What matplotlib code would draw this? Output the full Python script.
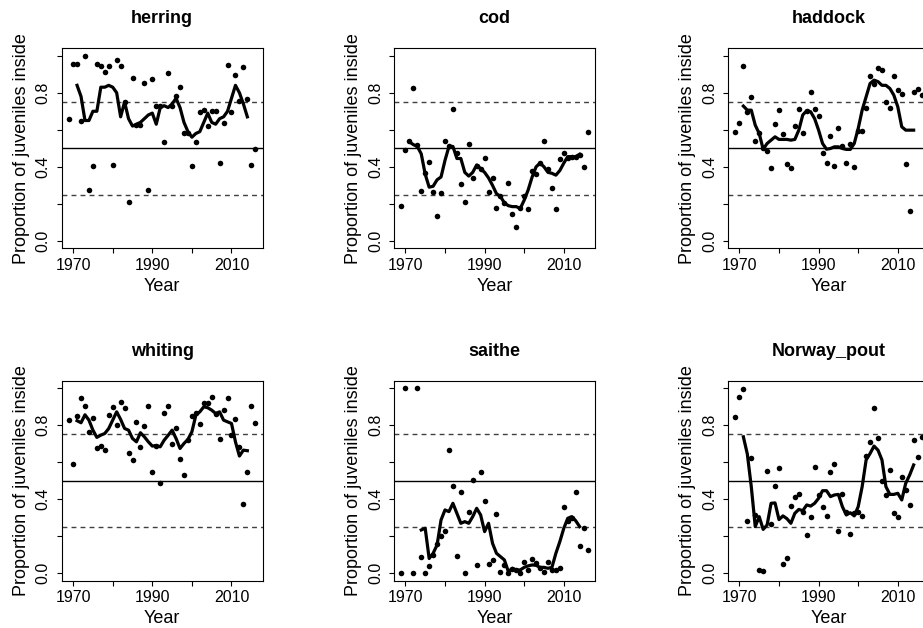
import numpy as np
import matplotlib
matplotlib.use("Agg")
import matplotlib.pyplot as plt

plt.rcParams['font.family'] = ['Liberation Sans', 'DejaVu Sans']

# Survey years (annual proportions) and years of the smoothed running mean
years = np.arange(1969, 2017)
smooth_years = np.arange(1971, 2015)
saithe_smooth_years = np.arange(1974, 2015)

herring_pts = [0.656, 0.955, 0.955, 0.645, 1.0, 0.277, 0.405, 0.955, 0.944, 0.913,
               0.946, 0.41, 0.977, 0.944, 0.75, 0.21, 0.879, 0.625, 0.625, 0.85,
               0.277, 0.872, 0.728, 0.728, 0.533, 0.904, 0.73, 0.78, 0.829, 0.584,
               0.58, 0.405, 0.532, 0.697, 0.705, 0.622, 0.703, 0.703, 0.418, 0.634,
               0.95, 0.697, 0.894, 0.755, 0.94, 0.764, 0.41, 0.494]
herring_smooth = [0.84, 0.78, 0.65, 0.65, 0.70, 0.70, 0.83, 0.83, 0.84, 0.83,
                  0.80, 0.67, 0.75, 0.66, 0.62, 0.63, 0.64, 0.66, 0.68, 0.69,
                  0.63, 0.72, 0.73, 0.72, 0.74, 0.77, 0.72, 0.64, 0.59, 0.56,
                  0.58, 0.59, 0.64, 0.69, 0.64, 0.63, 0.66, 0.67, 0.70, 0.77,
                  0.84, 0.80, 0.74, 0.67]

cod_pts = [0.187, 0.492, 0.542, 0.827, 0.517, 0.27, 0.364, 0.427, 0.263, 0.137,
           0.259, 0.542, 0.51, 0.71, 0.476, 0.306, 0.21, 0.523, 0.339, 0.405,
           0.39, 0.447, 0.263, 0.342, 0.178, 0.241, 0.205, 0.315, 0.146, 0.074,
           0.175, 0.241, 0.173, 0.38, 0.36, 0.42, 0.537, 0.386, 0.283, 0.173,
           0.441, 0.476, 0.45, 0.455, 0.455, 0.462, 0.40, 0.587]
cod_smooth = [0.535, 0.52, 0.51, 0.47, 0.36, 0.29, 0.295, 0.33, 0.345, 0.435,
              0.51, 0.51, 0.445, 0.445, 0.37, 0.35, 0.37, 0.41, 0.39, 0.37,
              0.34, 0.30, 0.255, 0.24, 0.205, 0.19, 0.185, 0.185, 0.175, 0.22,
              0.275, 0.345, 0.40, 0.42, 0.40, 0.37, 0.365, 0.355, 0.38, 0.42,
              0.455, 0.455, 0.455, 0.468]

haddock_pts = [0.587, 0.636, 0.942, 0.697, 0.777, 0.537, 0.584, 0.50, 0.488, 0.395,
               0.631, 0.706, 0.578, 0.414, 0.395, 0.622, 0.714, 0.584, 0.70, 0.804,
               0.71, 0.672, 0.474, 0.418, 0.569, 0.405, 0.611, 0.514, 0.422, 0.523,
               0.40, 0.596, 0.593, 0.72, 0.89, 0.847, 0.932, 0.922, 0.748, 0.72,
               0.89, 0.813, 0.795, 0.414, 0.162, 0.805, 0.82, 0.79]
haddock_smooth = [0.728, 0.706, 0.706, 0.625, 0.58, 0.495, 0.526, 0.544, 0.562, 0.548,
                  0.548, 0.548, 0.544, 0.548, 0.598, 0.68, 0.703, 0.697, 0.66, 0.598,
                  0.526, 0.495, 0.499, 0.508, 0.508, 0.499, 0.494, 0.494, 0.526, 0.607,
                  0.706, 0.778, 0.85, 0.868, 0.86, 0.84, 0.84, 0.823, 0.787, 0.724,
                  0.616, 0.598, 0.598, 0.598]

whiting_pts = [0.827, 0.59, 0.851, 0.944, 0.906, 0.763, 0.84, 0.676, 0.689, 0.664,
               0.856, 0.896, 0.802, 0.926, 0.89, 0.651, 0.61, 0.818, 0.68, 0.793,
               0.901, 0.545, 0.687, 0.487, 0.865, 0.901, 0.70, 0.782, 0.615, 0.529,
               0.72, 0.851, 0.863, 0.808, 0.917, 0.921, 0.953, 0.858, 0.725, 0.883,
               0.944, 0.745, 0.831, 0.68, 0.374, 0.545, 0.901, 0.813]
whiting_smooth = [0.824, 0.813, 0.856, 0.827, 0.773, 0.734, 0.746, 0.755, 0.782, 0.827,
                  0.872, 0.831, 0.782, 0.773, 0.728, 0.71, 0.759, 0.737, 0.71, 0.687,
                  0.69, 0.683, 0.719, 0.745, 0.773, 0.728, 0.674, 0.701, 0.723, 0.764,
                  0.854, 0.872, 0.899, 0.894, 0.881, 0.863, 0.872, 0.827, 0.818, 0.809,
                  0.71, 0.633, 0.665, 0.662]

saithe_pts = [0.0, 1.0, np.nan, 0.0, 1.0, 0.088, 0.0, 0.038, 0.10, 0.156,
              0.203, 0.23, 0.665, 0.469, 0.094, 0.44, 0.0, 0.333, 0.502, 0.047,
              0.545, 0.388, 0.05, 0.072, 0.318, 0.009, 0.045, 0.004, 0.023, 0.018,
              0.002, 0.059, 0.018, 0.077, 0.054, 0.027, 0.009, 0.059, 0.02, 0.018,
              0.027, 0.356, 0.28, 0.30, 0.439, 0.149, 0.246, 0.124]
saithe_smooth = [0.234, 0.243, 0.08, 0.108, 0.153, 0.288, 0.342, 0.333, 0.378, 0.324,
                 0.27, 0.279, 0.27, 0.306, 0.351, 0.315, 0.225, 0.27, 0.162, 0.108,
                 0.09, 0.072, 0.009, 0.027, 0.018, 0.018, 0.032, 0.04, 0.045, 0.043,
                 0.032, 0.032, 0.027, 0.032, 0.108, 0.171, 0.243, 0.297, 0.306, 0.284,
                 0.252]

pout_pts = [0.844, 0.953, 0.996, 0.282, 0.624, 0.317, 0.018, 0.014, 0.554, 0.264,
            0.473, 0.567, 0.05, 0.085, 0.362, 0.41, 0.426, 0.33, 0.207, 0.306,
            0.572, 0.423, 0.356, 0.311, 0.549, 0.588, 0.23, 0.43, 0.331, 0.21,
            0.327, 0.33, 0.311, 0.636, 0.707, 0.892, 0.728, 0.496, 0.421, 0.559,
            0.324, 0.306, 0.518, 0.45, 0.37, 0.718, 0.629, 0.737]
pout_smooth = [0.737, 0.644, 0.468, 0.252, 0.306, 0.237, 0.261, 0.378, 0.38, 0.29,
               0.31, 0.295, 0.27, 0.324, 0.345, 0.338, 0.369, 0.363, 0.378, 0.405,
               0.446, 0.446, 0.414, 0.423, 0.426, 0.36, 0.315, 0.327, 0.31, 0.36,
               0.468, 0.612, 0.647, 0.687, 0.665, 0.612, 0.468, 0.426, 0.426, 0.432,
               0.396, 0.486, 0.531, 0.585]

species = ["herring", "cod", "haddock", "whiting", "saithe", "Norway_pout"]
panels = [
    (herring_pts, smooth_years, herring_smooth),
    (cod_pts, smooth_years, cod_smooth),
    (haddock_pts, smooth_years, haddock_smooth),
    (whiting_pts, smooth_years, whiting_smooth),
    (saithe_pts, saithe_smooth_years, saithe_smooth),
    (pout_pts, smooth_years, pout_smooth),
]

x_ticks = [1970, 1980, 1990, 2000, 2010]
x_labels = ["1970", "", "1990", "", "2010"]
y_ticks = [0.0, 0.2, 0.4, 0.6, 0.8, 1.0]
y_labels = ["0.0", "", "0.4", "", "0.8", ""]
ref_solid = 0.5
ref_dashed = [0.25, 0.75]

W, H = 923, 628
fig = plt.figure(figsize=(W / 100, H / 100), dpi=100)

col_left = [61.7, 394.0, 728.0]
row_top = [48.3, 380.7]
ax_w, ax_h = 201.0, 200.0

for i, (name, (pts, sm_years, sm)) in enumerate(zip(species, panels)):
    r, c = divmod(i, 3)
    left, top = col_left[c], row_top[r]
    ax = fig.add_axes([left / W, 1 - (top + ax_h) / H, ax_w / W, ax_h / H])
    ax.set_xlim(1967.12, 2017.88)
    ax.set_ylim(-0.04, 1.04)

    ax.axhline(ref_solid, color="black", lw=1.0, zorder=1)
    for yv in ref_dashed:
        ax.axhline(yv, color="#404040", lw=1.0, ls=(0, (3.5, 3.0)), zorder=1)

    ax.plot(years, pts, "o", ms=4.0, color="black", mec="none", zorder=3)
    ax.plot(sm_years, sm, color="black", lw=2.3, solid_joinstyle="round", zorder=4)

    for sp in ax.spines.values():
        sp.set_linewidth(0.8)
        sp.set_color("black")
    ax.tick_params(direction="out", length=3.6, width=0.8, colors="black", labelsize=11.5)
    ax.tick_params(axis="x", pad=12.0)
    ax.tick_params(axis="y", pad=6.5)
    ax.set_xticks(x_ticks, x_labels, va="baseline")
    ax.set_yticks(y_ticks, y_labels, rotation=90, rotation_mode="anchor",
                  ha="center", va="baseline")

    cx = left + ax_w / 2
    fig.text(cx / W, 1 - (top - 25.0) / H, name, ha="center", va="baseline",
             fontsize=13, fontweight="bold")
    fig.text(cx / W, 1 - (top + ax_h + 42.4) / H, "Year", ha="center",
             va="baseline", fontsize=13)
    fig.text((left - 35.7) / W, 1 - (top + ax_h / 2) / H,
             "Proportion of juveniles inside", rotation=90, rotation_mode="anchor",
             ha="center", va="baseline", fontsize=13)

fig.savefig("out.png", dpi=100, facecolor="white")
